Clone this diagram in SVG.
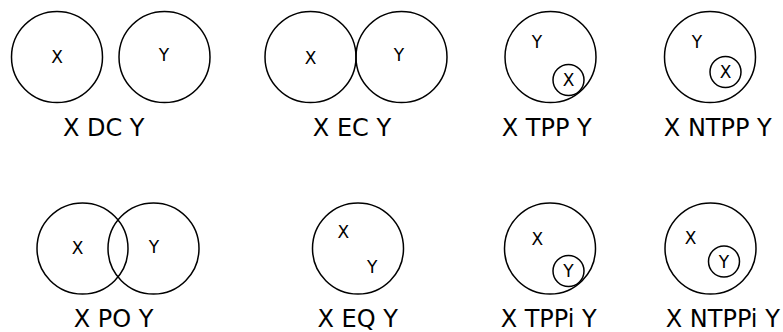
<svg xmlns="http://www.w3.org/2000/svg" width="783" height="332" viewBox="0 0 783 332">
<style>
circle{fill:none;stroke:#000;stroke-width:1.5}
text{font-family:"DejaVu Sans",sans-serif;fill:#000;text-anchor:middle}
.l{font-size:17px;dominant-baseline:central}
.c{font-size:24px}
</style>
<rect width="783" height="332" fill="#fff"/>
<g id="dc">
<circle cx="57" cy="57" r="45.5"/><circle cx="164.5" cy="57" r="45.5"/>
<text class="l" x="57" y="57">X</text><text class="l" x="164" y="55">Y</text>
<text class="c" x="103.7" y="136">X DC Y</text>
</g>
<g id="ec">
<circle cx="310.5" cy="57" r="45.5"/><circle cx="401.5" cy="57" r="45.5"/>
<text class="l" x="310.7" y="58">X</text><text class="l" x="399" y="55">Y</text>
<text class="c" x="352" y="136">X EC Y</text>
</g>
<g id="tpp">
<circle cx="550.5" cy="57" r="45.5"/><circle cx="568.5" cy="80" r="15.5"/>
<text class="l" x="537" y="42">Y</text><text class="l" x="568.5" y="80">X</text>
<text class="c" x="546.7" y="136">X TPP Y</text>
</g>
<g id="ntpp">
<circle cx="710" cy="57" r="45.5"/><circle cx="725.5" cy="72" r="15.5"/>
<text class="l" x="697" y="42">Y</text><text class="l" x="725.5" y="72">X</text>
<text class="c" x="717.8" y="136">X NTPP Y</text>
</g>
<g id="po">
<circle cx="82.5" cy="248.5" r="45.5"/><circle cx="153.5" cy="248.5" r="45.5"/>
<text class="l" x="77.7" y="248">X</text><text class="l" x="154" y="247">Y</text>
<text class="c" x="113.5" y="327">X PO Y</text>
</g>
<g id="eq">
<circle cx="358" cy="248.5" r="45.5"/>
<text class="l" x="343.3" y="231.7">X</text><text class="l" x="372.3" y="267.3">Y</text>
<text class="c" x="357.7" y="327">X EQ Y</text>
</g>
<g id="tppi">
<circle cx="550" cy="248.5" r="45.5"/><circle cx="568.5" cy="271" r="15.5"/>
<text class="l" x="537.3" y="239.3">X</text><text class="l" x="568.5" y="271">Y</text>
<text class="c" x="548.7" y="327">X TPPi Y</text>
</g>
<g id="ntppi">
<circle cx="710.5" cy="248.5" r="45.5"/><circle cx="724" cy="261.5" r="15.5"/>
<text class="l" x="690.7" y="238.3">X</text><text class="l" x="724" y="261.5">Y</text>
<text class="c" x="722.8" y="327">X NTPPi Y</text>
</g>
<g id="connectors"/>
</svg>
